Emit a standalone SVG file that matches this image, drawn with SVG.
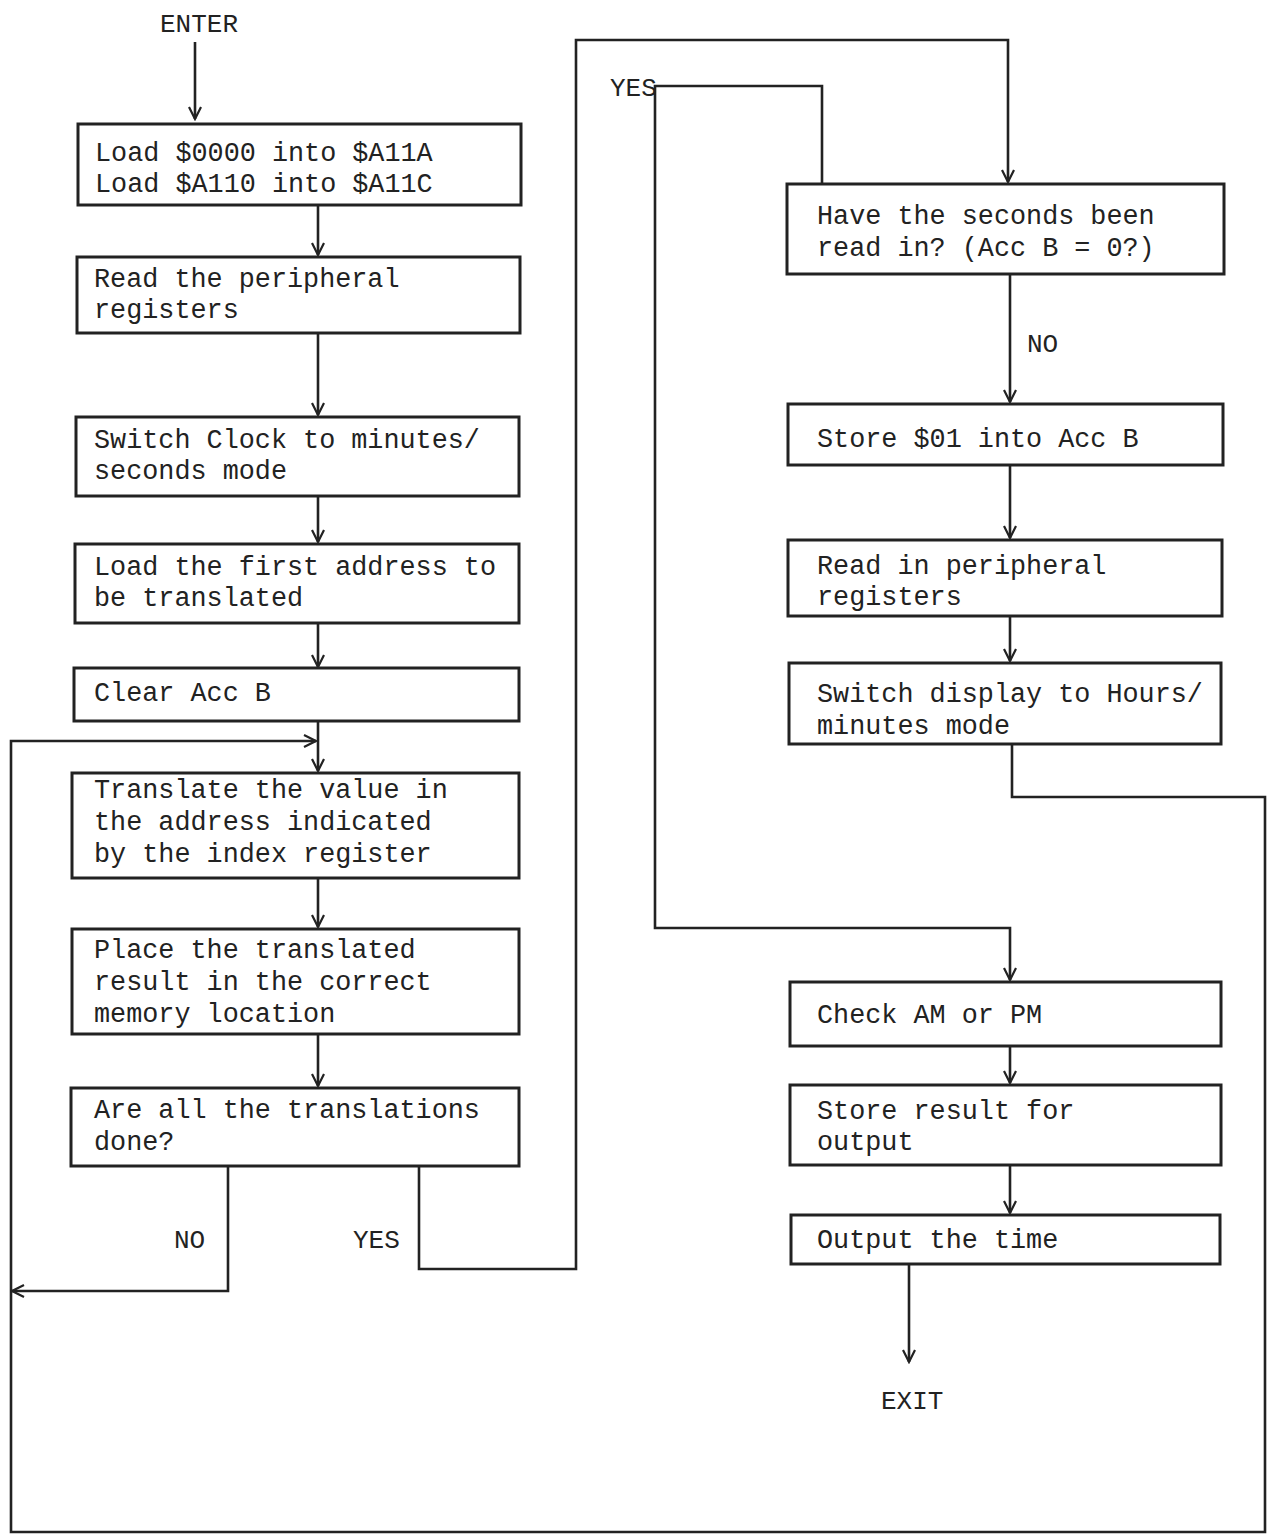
<svg xmlns="http://www.w3.org/2000/svg" width="1274" height="1535" viewBox="0 0 1274 1535">
<defs>
<marker id="arr" markerWidth="16" markerHeight="16" refX="14" refY="8" orient="auto" markerUnits="userSpaceOnUse">
<polyline points="2,2 14,8 2,14" fill="none" stroke="#222" stroke-width="2.2"/>
</marker>
<style>
.box{fill:#fff;stroke:#222;stroke-width:3}
.ln{fill:none;stroke:#222;stroke-width:2.6}
text{font-family:"Liberation Mono","DejaVu Sans Mono",monospace;font-size:26.8px;fill:#222}
.lbl{font-size:26px}
</style>
</defs>
<rect width="1274" height="1535" fill="#fff"/>
<g id="connectors">
<path class="ln" d="M195,42 V119" marker-end="url(#arr)"/>
<path class="ln" d="M318,205 V255" marker-end="url(#arr)"/>
<path class="ln" d="M318,333 V415" marker-end="url(#arr)"/>
<path class="ln" d="M318,496 V542" marker-end="url(#arr)"/>
<path class="ln" d="M318,623 V667" marker-end="url(#arr)"/>
<path class="ln" d="M318,721 V771" marker-end="url(#arr)"/>
<path class="ln" d="M318,878 V927" marker-end="url(#arr)"/>
<path class="ln" d="M318,1034 V1086" marker-end="url(#arr)"/>
<path class="ln" d="M228,1166 V1291 H12" marker-end="url(#arr)"/>
<path class="ln" d="M419,1166 V1269 H576 V40 H1008 V182" marker-end="url(#arr)"/>
<path class="ln" d="M822,184 V86 H655 V928 H1010 V980" marker-end="url(#arr)"/>
<path class="ln" d="M1010,274 V402" marker-end="url(#arr)"/>
<path class="ln" d="M1010,465 V538" marker-end="url(#arr)"/>
<path class="ln" d="M1010,616 V661" marker-end="url(#arr)"/>
<path class="ln" d="M1012,744 V797 H1265 V1532 H11 V741 H316" marker-end="url(#arr)"/>
<path class="ln" d="M1010,1046 V1083" marker-end="url(#arr)"/>
<path class="ln" d="M1010,1165 V1213" marker-end="url(#arr)"/>
<path class="ln" d="M909,1264 V1362" marker-end="url(#arr)"/>
</g>
<g id="labels">
<text class="lbl" x="160" y="32">ENTER</text>
<text class="lbl" x="610" y="96">YES</text>
<text class="lbl" x="1027" y="352">NO</text>
<text class="lbl" x="174" y="1248">NO</text>
<text class="lbl" x="353" y="1248">YES</text>
<text class="lbl" x="881" y="1409">EXIT</text>
</g>
<g id="n1"><rect class="box" x="78" y="124" width="443" height="81"/>
<text x="95" y="161">Load $0000 into $A11A</text><text x="95" y="192">Load $A110 into $A11C</text></g>
<g id="n2"><rect class="box" x="77" y="257" width="443" height="76"/>
<text x="94" y="287">Read the peripheral</text><text x="94" y="318">registers</text></g>
<g id="n3"><rect class="box" x="76" y="417" width="443" height="79"/>
<text x="94" y="448">Switch Clock to minutes/</text><text x="94" y="479">seconds mode</text></g>
<g id="n4"><rect class="box" x="75" y="544" width="444" height="79"/>
<text x="94" y="575">Load the first address to</text><text x="94" y="606">be translated</text></g>
<g id="n5"><rect class="box" x="74" y="668" width="445" height="53"/>
<text x="94" y="701">Clear Acc B</text></g>
<g id="n6"><rect class="box" x="72" y="773" width="447" height="105"/>
<text x="94" y="798">Translate the value in</text><text x="94" y="830">the address indicated</text><text x="94" y="862">by the index register</text></g>
<g id="n7"><rect class="box" x="72" y="929" width="447" height="105"/>
<text x="94" y="958">Place the translated</text><text x="94" y="990">result in the correct</text><text x="94" y="1022">memory location</text></g>
<g id="n8"><rect class="box" x="71" y="1088" width="448" height="78"/>
<text x="94" y="1118">Are all the translations</text><text x="94" y="1150">done?</text></g>
<g id="n9"><rect class="box" x="787" y="184" width="437" height="90"/>
<text x="817" y="224">Have the seconds been</text><text x="817" y="256">read in? (Acc B = 0?)</text></g>
<g id="n10"><rect class="box" x="788" y="404" width="435" height="61"/>
<text x="817" y="447">Store $01 into Acc B</text></g>
<g id="n11"><rect class="box" x="788" y="540" width="434" height="76"/>
<text x="817" y="574">Read in peripheral</text><text x="817" y="605">registers</text></g>
<g id="n12"><rect class="box" x="789" y="663" width="432" height="81"/>
<text x="817" y="702">Switch display to Hours/</text><text x="817" y="734">minutes mode</text></g>
<g id="n13"><rect class="box" x="790" y="982" width="431" height="64"/>
<text x="817" y="1023">Check AM or PM</text></g>
<g id="n14"><rect class="box" x="790" y="1085" width="431" height="80"/>
<text x="817" y="1119">Store result for</text><text x="817" y="1150">output</text></g>
<g id="n15"><rect class="box" x="791" y="1215" width="429" height="49"/>
<text x="817" y="1248">Output the time</text></g>
</svg>
